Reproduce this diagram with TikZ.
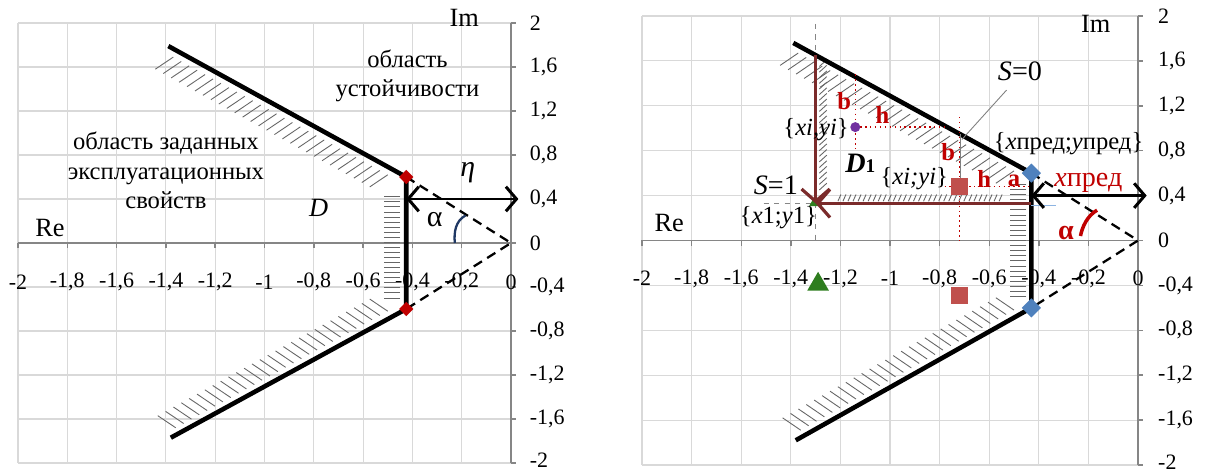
\documentclass[tikz,border=0pt]{standalone}
\usepackage{fontspec}
\setmainfont{Liberation Serif}
\usetikzlibrary{arrows.meta, calc, shapes.geometric}
\definecolor{GridGray}{HTML}{D9D9D9}
\definecolor{AxisGray}{HTML}{868686}
\definecolor{Brown}{HTML}{7B2B2B}
\definecolor{RedTxt}{HTML}{C00000}
\definecolor{RedSq}{HTML}{C0504D}
\definecolor{BlueDm}{HTML}{4F81BD}
\definecolor{GreenTr}{HTML}{2E7D1E}
\definecolor{Purple}{HTML}{7030A0}
\definecolor{ArcBlue}{HTML}{1F3864}
\definecolor{LightBlue}{HTML}{8DB4E2}

% short hatch strokes along a segment: from, to, count, offset
\newcommand{\hatchalong}[4]{%
  \foreach \k in {0,...,#3}
    \draw[hatchln] ($(#1)!\k/#3!(#2)$) -- ++(#4);}

% grid, axes and tick labels of one chart
\newcommand{\drawframe}[2]{%
  \foreach \gx in {-2,-1.8,...,-0.1}
    \draw[gridln] (\gx,-2) -- (\gx,2);
  \foreach \gy in {-2,-1.6,...,2.1}
    \draw[gridln] (-2,\gy) -- (0,\gy);
  \draw[axisln] (-2,0) -- (0,0);
  \draw[axisln] (0,-2) -- (0,2);
  \foreach \gx in {-2,-1.8,...,0.1}
    \draw[axisln] (\gx,0) -- (\gx,-0.045);
  \foreach \gy in {-2,-1.6,...,2.1}
    \draw[axisln] (0,\gy) -- (0.02,\gy);
  \foreach \v/\t in {-2/-2,-1.8/{-1,8},-1.6/{-1,6},-1.4/{-1,4},-1.2/{-1,2},-1/-1,
                     -0.8/{-0,8},-0.6/{-0,6},-0.4/{-0,4},-0.2/{-0,2},0/0}
    \node[ticklbl] at (\v,#1) {\t};
  \foreach \v/\t in {2/2,1.6/{1,6},1.2/{1,2},0.8/{0,8},0.4/{0,4},0/0,
                     -0.4/{-0,4},-0.8/{-0,8},-1.2/{-1,2},-1.6/{-1,6}}
    \node[ticklbl, anchor=west] at (#2,\v) {\t};
  \node[ticklbl, anchor=west] at (#2,-1.975) {-2};}

\begin{document}
\begin{tikzpicture}[
    gridln/.style={draw=GridGray, line width=0.6pt},
    axisln/.style={draw=AxisGray, line width=0.8pt},
    bound/.style={line width=2.6pt, line join=round},
    hatchln/.style={line width=0.5pt, black!60},
    dashln/.style={line width=1.3pt, dash pattern=on 5.5pt off 3.5pt},
    dblarrow/.style={{Straight Barb[length=6pt,width=14pt]}-{Straight Barb[length=6pt,width=14pt]}, line width=1.7pt},
    brarrow/.style={-{Straight Barb[length=7pt,width=16pt]}, line width=1.8pt, Brown},
    ticklbl/.style={font=\fontsize{12.5}{14}\selectfont, inner sep=0pt},
    txt/.style={font=\fontsize{14}{16}\selectfont, inner sep=0pt, align=center},
    axlbl/.style={font=\fontsize{15}{16}\selectfont, inner sep=0pt},
    redlbl/.style={font=\fontsize{14}{16}\selectfont\bfseries, text=RedTxt, inner sep=0pt},
    reddot/.style={RedTxt, line width=0.8pt, dotted},
    rdiam/.style={rectangle, rotate=45, fill=RedTxt, minimum size=0.2cm, inner sep=0pt},
    bdiam/.style={rectangle, rotate=45, fill=BlueDm, minimum size=0.27cm, inner sep=0pt},
    rsq/.style={rectangle, fill=RedSq, minimum size=0.34cm, inner sep=0pt},
    gtri/.style={regular polygon, regular polygon sides=3, fill=GreenTr, inner sep=0pt}
  ]
\fill[white] (0,0) rectangle (24.1,-9.48);
\useasboundingbox (0,0) rectangle (24.1,-9.48);

% left chart
\begin{scope}[shift={(10.22,-4.86)}, x=4.93cm, y=2.2cm]
  \drawframe{-0.355}{0.075}
  \hatchalong{-1.37,1.69}{-0.50,0.62}{27}{-0.073,-0.11}
  \hatchalong{-0.45,0.42}{-0.45,-0.5}{20}{-0.065,0}
  \hatchalong{-1.36,-1.68}{-0.50,-0.62}{27}{-0.073,0.11}
  \draw[dashln] (-0.425,0.6) -- (0,0) -- (-0.425,-0.6);
  \draw[bound] (-1.39,1.79) -- (-0.425,0.6) -- (-0.425,-0.6) -- (-1.38,-1.77);
  \node[rdiam] (lcornerup) at (-0.425,0.6) {};
  \node[rdiam] (lcornerdn) at (-0.425,-0.6) {};
  \coordinate (letaend) at (0.03,0.4);
  \draw[dblarrow] (-0.425,0.4) -- (letaend);
  \draw[ArcBlue, line width=1.3pt] (-0.185,0.25) .. controls (-0.225,0.2) and (-0.232,0.1) .. (-0.228,0.0);
  \node[axlbl] (lre) at (-1.87,0.14) {Re};
  \node[axlbl] (lim) at (-0.19,2.05) {Im};
  \node[axlbl, font=\fontsize{17}{18}\selectfont] (leta) at (-0.175,0.64) {\textit{η}};
  \node[axlbl, font=\fontsize{17}{18}\selectfont] (lalpha) at (-0.31,0.21) {α};
  \node[axlbl] (ld) at (-0.78,0.32) {\textit{D}};
  \node[txt] (stab) at (-0.42,1.52) {область\\[1pt]устойчивости};
  \node[txt] (spec) at (-1.40,0.66) {область заданных\\[1pt]эксплуатационных\\[1pt]свойств};
\end{scope}

% right chart
\begin{scope}[shift={(22.76,-4.81)}, x=4.96cm, y=2.245cm]
  \drawframe{-0.34}{0.08}
  \draw[AxisGray, line width=0.8pt, dashed] (-1.3,1.93) -- (-1.3,0);
  \draw[AxisGray, line width=0.8pt, dashed] (-1.51,0.33) -- (-1.3,0.33);
  \hatchalong{-1.37,1.67}{-0.50,0.62}{27}{-0.073,-0.11}
  \hatchalong{-0.45,0.5}{-0.45,-0.5}{22}{-0.065,0}
  \hatchalong{-1.36,-1.69}{-0.50,-0.62}{27}{-0.073,0.11}
  \hatchalong{-1.285,1.55}{-1.285,0.45}{22}{0.03,0.06}
  \hatchalong{-1.21,0.35}{-0.56,0.35}{32}{0.012,0.06}
  \draw[dashln] (-0.43,0.6) -- (0,0) -- (-0.43,-0.6);
  \draw[bound] (-1.39,1.76) -- (-0.43,0.6) -- (-0.43,-0.6) -- (-1.38,-1.78);
  % trajectory towards S=1
  \coordinate (rtop) at (-1.3,1.65);
  \coordinate (rs1) at (-1.3,0.33);
  \coordinate (rfoot) at (-0.43,0.33);
  \node[gtri, minimum size=0.3cm] (tri1) at (-1.3,0.34) {};
  \draw[brarrow] (rtop) -- (rs1);
  \draw[brarrow] (rfoot) -- (rs1);
  \draw[LightBlue, line width=0.8pt] (-0.43,0.31) -- (-0.33,0.31);
  % current point inside D1
  \draw[reddot] (-1.14,1.48) -- (-1.14,0.82);
  \draw[reddot] (-1.14,1.01) -- (-0.77,1.01);
  \node[circle, fill=Purple, minimum size=0.2cm, inner sep=0pt] (pti) at (-1.14,1.01) {};
  % current point near S=0
  \draw[reddot] (-0.72,1.1) -- (-0.72,0.0);
  \draw[reddot] (-0.80,0.48) -- (-0.44,0.48);
  \draw[gray, line width=0.5pt] (-0.53,1.34) -- (-0.71,0.9);
  \draw[gray, line width=0.5pt] (-0.715,0.95) -- (-0.715,0.48);
  \node[rsq] (sqi) at (-0.72,0.48) {};
  \node[rsq] (sqlow) at (-0.72,-0.49) {};
  \node[gtri, minimum size=0.5cm] (trilow) at (-1.29,-0.39) {};
  \node[bdiam] (rcornerup) at (-0.43,0.6) {};
  \node[bdiam] (rcornerdn) at (-0.43,-0.6) {};
  \coordinate (rxend) at (0.035,0.4);
  \draw[dblarrow] (-0.43,0.4) -- (rxend);
  \draw[RedTxt, line width=2pt] (-0.165,0.27) .. controls (-0.205,0.22) and (-0.225,0.12) .. (-0.232,0.04);
  \node[axlbl] (rre) at (-1.89,0.16) {Re};
  \node[axlbl] (rim) at (-0.17,1.93) {Im};
  \node[redlbl] (b1) at (-1.185,1.24) {b};
  \node[redlbl] (h1) at (-1.03,1.12) {h};
  \node[redlbl] (b2) at (-0.765,0.79) {b};
  \node[redlbl] (h2) at (-0.62,0.55) {h};
  \node[redlbl] (a2) at (-0.50,0.53) {a};
  \node[txt, anchor=east] (lblpi) at (-1.165,0.99) {\{\textit{xi,yi}\}};
  \node[txt, anchor=east] (lblsq) at (-0.765,0.55) {\{\textit{xi;yi}\}};
  \node[axlbl, font=\fontsize{16}{17}\selectfont] (d1) at (-1.12,0.69) {\textbf{\textit{D}\fontsize{11}{12}\selectfont 1}};
  \node[axlbl, font=\fontsize{16}{17}\selectfont] (s1) at (-1.46,0.49) {\textit{S}=1};
  \node[txt] (lbl1) at (-1.45,0.2) {\{\textit{x}1;\textit{y}1\}};
  \node[axlbl, font=\fontsize{16}{17}\selectfont] (s0) at (-0.476,1.51) {\textit{S}=0};
  \node[txt] (lblpred) at (-0.28,0.86) {\{\textit{x}пред;\textit{y}пред\}};
  \node[axlbl, text=RedTxt, font=\fontsize{16}{17}\selectfont] (xpred) at (-0.2,0.51) {\textit{x}пред};
  \node[axlbl, text=RedTxt, font=\fontsize{16}{17}\selectfont\bfseries] (ralpha) at (-0.29,0.07) {α};
\end{scope}
\end{tikzpicture}
\end{document}
